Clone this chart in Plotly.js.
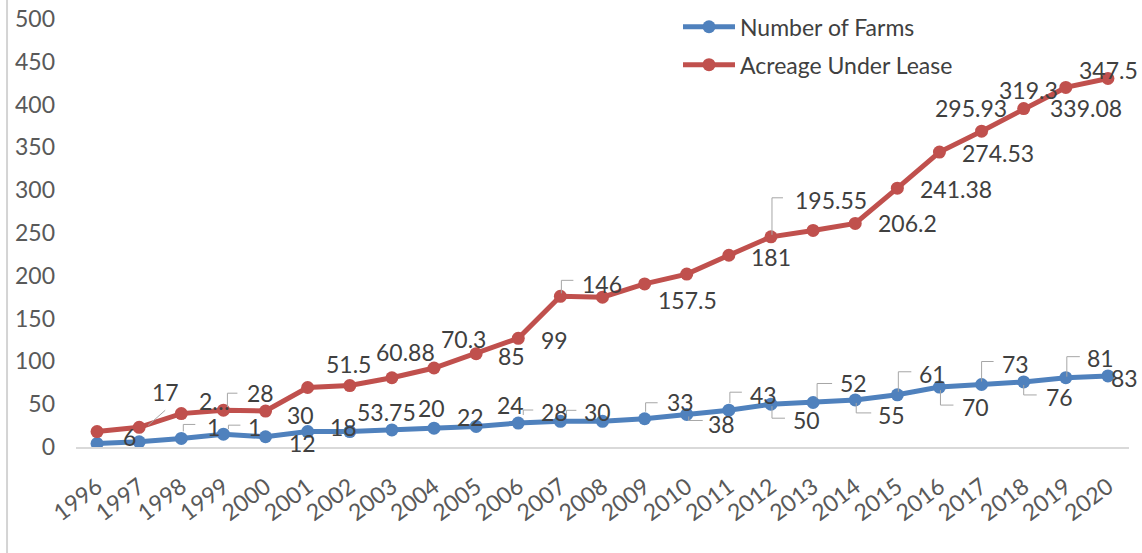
<!DOCTYPE html>
<html>
<head>
<meta charset="utf-8">
<script src="https://cdn.plot.ly/plotly-3.0.1.min.js"></script>
<style>
html,body{margin:0;padding:0;background:#ffffff;}
#chart{width:1142px;height:553px;}
#err{position:absolute;left:100px;top:100px;color:#f00;font-size:14px;}
</style>
</head>
<body>
<div id="chart"></div>
<div id="err"></div>
<script>
// ---------- data ----------
const years = ["1996","1997","1998","1999","2000","2001","2002","2003","2004","2005","2006","2007","2008","2009","2010","2011","2012","2013","2014","2015","2016","2017","2018","2019","2020"];
const farms = [4, 6, 10, 15, 12, 18, 18, 20, 22, 24, 28, 30, 30, 33, 38, 43, 50, 52, 55, 61, 70, 73, 76, 81, 83];
const acreage = [14, 17, 29, 28, 30, 51.5, 53.75, 60.88, 70.3, 85, 99, 146, 145, 157.5, 164, 181, 195.55, 201, 206.2, 241.38, 274.53, 295.93, 319.3, 339.08, 347.5];
const farmLabels = ["", "6", "1", "1", "12", "18", "", "20", "22", "24", "28", "30", "", "33", "38", "43", "50", "52", "55", "61", "70", "73", "76", "81", "83"];
const acreageLabels = ["", "17", "2\u2026", "28", "30", "51.5", "53.75", "60.88", "70.3", "85", "99", "146", "", "157.5", "", "181", "195.55", "", "206.2", "241.38", "274.53", "295.93", "319.3", "339.08", "347.5"];
const yTickVals = [0, 50, 100, 150, 200, 250, 300, 350, 400, 450, 500];

// ---------- presentation: label placement (pixel offsets from the marker, y down) ----------
const farmLabelOffsets = [null,[-10,-5],[32,-11],[31,-7],[37,6],[36,-5],null,[40,-22],[36,-11],[34,-21],[36,-11],[37,-9],null,[36,-17],[35,10],[35,-15],[36,16],[40,-19],[36,15],[35,-21],[36,20],[34,-21],[36,15],[35,-20],[17,2]];
const acreageLabelOffsets = [null,[26,-35],[33,-13],[37,-17],[35,4],[41,-24],[37,26],[14,-26],[29,-29],[35,2],[36,2],[42,-12],null,[43,16],null,[42,2],[60,-37],null,[52,0],[59,1],[59,1],[-11,-23],[5,-19],[20,21],[1,-8]];
const farmLeaders = {2:[[2,-7],[2,-14],[14,-14]], 3:[[5,-5],[5,-9],[17,-9]], 10:[[5,-8],[5,-13],[15,-13]], 11:[[6,-6],[6,-11],[16,-11]],
  13:[[1,-7],[1,-16],[13,-16]], 14:[[2,2],[2,6],[16,6]], 15:[[1,-7],[1,-18],[13,-18]], 16:[[1,2],[1,14],[14,14]],
  17:[[4,-4],[4,-19],[19,-19]], 18:[[1,3],[1,13],[16,13]], 19:[[1,-3],[1,-23],[14,-23]], 20:[[1,3],[1,18],[14,18]],
  21:[[0,-3],[0,-23],[12,-23]], 22:[[0,3],[0,13],[13,13]], 23:[[1,-1],[1,-21],[14,-21]]};
const acreageLeaders = {1:[[9,-2],[26,-17]], 3:[[4,-3],[4,-17],[14,-17]], 11:[[1,-3],[1,-16],[13,-16]], 16:[[1,-2],[1,-39],[12,-39]]};

const BLUE = "#4F81BD", RED = "#C0504D";
const FONT = "Lato, 'Open Sans', 'Liberation Sans', sans-serif";
const LABEL_COLOR = "#404040";
const FS = 23;

function showErr(e){ document.getElementById("err").textContent = "ERR: " + (e && (e.stack || e.message) || e); }

try {
// stacked line: acreage is drawn on top of the number of farms
const acreageTop = acreage.map((a, i) => a + farms[i]);

const traces = [
  {x: years, y: farms, name: "Number of Farms", type: "scatter", mode: "lines+markers",
   line: {color: BLUE, width: 5}, marker: {color: BLUE, size: 13}, legendgroup: "a"},
  {x: years, y: acreageTop, name: "Acreage Under Lease", type: "scatter", mode: "lines+markers",
   line: {color: RED, width: 5}, marker: {color: RED, size: 13}, legendgroup: "b"}
];

const annotations = [];
const shapes = [];
function addLabels(labels, values, offsets, leaders) {
  labels.forEach((t, i) => {
    if (!t || !offsets[i]) return;
    annotations.push({x: i, y: values[i], xref: "x", yref: "y", text: t, showarrow: false,
      xshift: offsets[i][0], yshift: -offsets[i][1], xanchor: "center", yanchor: "middle",
      font: {size: FS, color: LABEL_COLOR}});
  });
  Object.keys(leaders).forEach(k => {
    const i = +k;
    const pts = leaders[k];
    const path = pts.map((p, j) => (j ? "L" : "M") + p[0] + "," + (-p[1])).join(" ");
    shapes.push({type: "path", xref: "x", yref: "y", xsizemode: "pixel", ysizemode: "pixel",
      xanchor: i, yanchor: values[i], path: path, line: {color: "#a6a6a6", width: 1}});
  });
}
addLabels(farmLabels, farms, farmLabelOffsets, farmLeaders);
addLabels(acreageLabels, acreageTop, acreageLabelOffsets, acreageLeaders);

// light border line at the far left of the picture
shapes.push({type: "line", xref: "paper", yref: "paper", x0: -0.0655, x1: -0.0655, y0: -0.25, y1: 1.05,
  line: {color: "#d4d4d4", width: 2}});

const layout = {
  width: 1142, height: 553,
  margin: {l: 76, r: 13, t: 19, b: 106, autoexpand: false},
  paper_bgcolor: "#ffffff", plot_bgcolor: "#ffffff",
  font: {family: FONT, size: FS, color: LABEL_COLOR},
  showlegend: true,
  legend: {x: 0.5717, y: 1.032, xanchor: "left", yanchor: "top",
    bgcolor: "rgba(0,0,0,0)",
    font: {family: FONT, size: FS, color: LABEL_COLOR}, traceorder: "grouped", tracegroupgap: 5, itemwidth: 52},
  xaxis: {type: "category", range: [-0.5, 24.5], tickangle: -37, showgrid: false, zeroline: false,
    showline: true, linecolor: "#d9d9d9", linewidth: 1.5, ticks: "", automargin: false,
    tickfont: {family: FONT, size: FS, color: "#595959"}, ticklabelstandoff: 16, fixedrange: true},
  yaxis: {range: [0, 500], tickmode: "array", tickvals: yTickVals, ticktext: yTickVals.map(String),
    showgrid: false, zeroline: false, showline: false, ticks: "", automargin: false,
    tickfont: {family: FONT, size: FS, color: "#595959"}, ticklabelstandoff: 20, fixedrange: true},
  annotations: annotations,
  shapes: shapes,
  hovermode: false
};

Plotly.newPlot("chart", traces, layout, {displayModeBar: false, staticPlot: true}).catch(showErr);
} catch (e) { showErr(e); }
</script>
</body>
</html>
